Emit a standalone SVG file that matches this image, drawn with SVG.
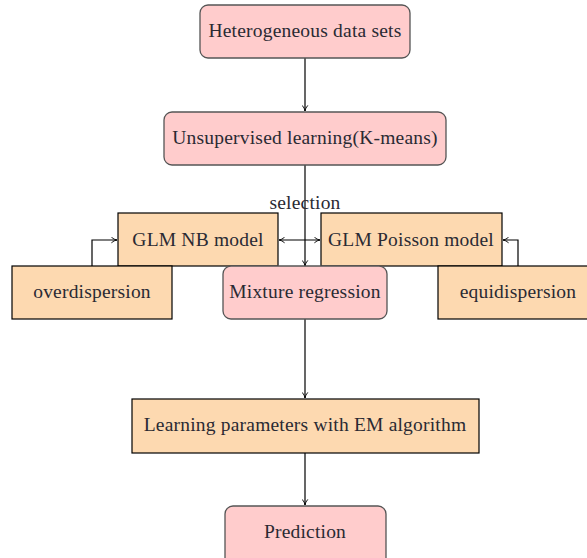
<svg xmlns="http://www.w3.org/2000/svg" width="587" height="558" viewBox="0 0 587 558">
<defs>
<marker id="ah" viewBox="0 0 10 10" refX="9" refY="5" markerWidth="7" markerHeight="7" orient="auto-start-reverse" markerUnits="userSpaceOnUse">
<path d="M1,1 Q5,4.5 9,5 Q5,5.5 1,9" fill="none" stroke="#000" stroke-width="1.3"/>
</marker>
<style>
.p{fill:#ffcccc;stroke:#555;stroke-width:1.3}
.o{fill:#fdd9b0;stroke:#000;stroke-width:1.2}
text{font-family:"Liberation Serif","DejaVu Serif",serif;font-size:19.5px;letter-spacing:0.2px;fill:#2a2a33;text-anchor:middle;dominant-baseline:central}
.c{fill:none;stroke:#000;stroke-width:1.2}
</style>
</defs>
<rect width="587" height="558" fill="#fff"/>
<g id="connectors">
<path class="c" d="M305,58 V111" marker-end="url(#ah)"/>
<path class="c" d="M305,165 V266" marker-end="url(#ah)"/>
<path class="c" d="M305,319 V398" marker-end="url(#ah)"/>
<path class="c" d="M305,453 V505" marker-end="url(#ah)"/>
<path class="c" d="M279,240 H320" marker-start="url(#ah)" marker-end="url(#ah)"/>
<path class="c" d="M92,266 V240 H117" marker-end="url(#ah)"/>
<path class="c" d="M518,266 V240 H503" marker-end="url(#ah)"/>
</g>
<g id="n1"><rect class="p" x="200" y="5" width="210" height="53" rx="8"/><text x="305" y="30">Heterogeneous data sets</text></g>
<g id="n2"><rect class="p" x="164" y="112" width="282" height="53" rx="8"/><text x="305" y="137">Unsupervised learning(K-means)</text></g>
<g id="lbl"><text x="305" y="202">selection</text></g>
<g id="n3"><rect class="o" x="118" y="213" width="160" height="53"/><text x="198" y="239">GLM NB model</text></g>
<g id="n4"><rect class="o" x="321" y="213" width="181" height="53"/><text x="411" y="239">GLM Poisson model</text></g>
<g id="n5"><rect class="o" x="12" y="266" width="160" height="53"/><text x="92" y="291">overdispersion</text></g>
<g id="n6"><rect class="p" x="223" y="266" width="164" height="53" rx="8"/><text x="305" y="291">Mixture regression</text></g>
<g id="n7"><rect class="o" x="438" y="266" width="160" height="53"/><text x="518" y="291">equidispersion</text></g>
<g id="n8"><rect class="o" x="132" y="399" width="347" height="54"/><text x="305" y="424">Learning parameters with EM algorithm</text></g>
<g id="n9"><rect class="p" x="225" y="506" width="161" height="60" rx="8"/><text x="305" y="531">Prediction</text></g>
</svg>
